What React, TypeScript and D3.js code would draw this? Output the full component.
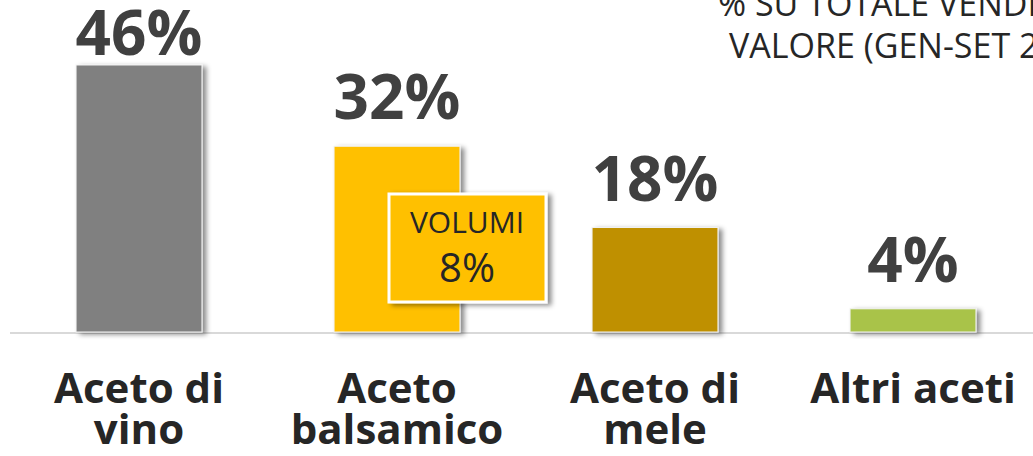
import React from "react";
import * as d3 from "d3";

const categories: string[][] = [["Aceto di", "vino"], ["Aceto", "balsamico"], ["Aceto di", "mele"], ["Altri aceti"]];
const values: number[] = [46, 32, 18, 4];
const colors: string[] = ["#808080", "#FFC000", "#BF9000", "#A9C34A"];
const titleLines: string[] = ["% SU TOTALE VENDITE", "VALORE (GEN-SET 2019)"];
const calloutLines: string[] = ["VOLUMI", "8%"];

const W = 1033;
const H = 456;
const FONT = "'Open Sans', 'DejaVu Sans', sans-serif";

export default function App() {
  const keys = categories.map((c) => c.join(" "));
  const x = d3.scaleBand<string>().domain(keys).range([10, 1042]).paddingInner(0.512).paddingOuter(0.256);
  const y = d3.scaleLinear().domain([0, 46]).range([332, 65]);
  const bw = x.bandwidth();

  return (
    <svg width={W} height={H} style={{ position: "absolute", left: 0, top: 0, background: "#fff" }}>
      <defs>
        <filter id="sh" x="-20%" y="-20%" width="150%" height="150%">
          <feDropShadow dx="4" dy="2" stdDeviation="2.5" floodColor="#000" floodOpacity="0.45" />
        </filter>
      </defs>
      <rect width={W} height={H} fill="#fff" />
      {titleLines.map((t, i) => (
        <text key={t} x={i === 0 ? 718 : 729} y={16 + i * 42} fontFamily={FONT} fontSize={34} fill="#262626">
          {t}
        </text>
      ))}
      <line x1={10} x2={W} y1={333} y2={333} stroke="#d9d9d9" strokeWidth={2} />
      {values.map((v, i) => {
        const x0 = x(keys[i]) as number;
        return (
          <g key={keys[i]}>
            <rect x={x0} y={y(v)} width={bw} height={y(0) - y(v)} fill={colors[i]} stroke="#f2f2f2" strokeWidth={1} filter="url(#sh)" />
            <text
              x={x0 + bw / 2}
              y={Math.max(y(v) - 27, 55)}
              textAnchor="middle"
              fontFamily={FONT}
              fontWeight={700}
              fontSize={62}
              fill="#404040"
            >
              {v}%
            </text>
            {categories[i].map((line, j) => (
              <text
                key={line}
                x={x0 + bw / 2}
                y={403 + j * 41}
                textAnchor="middle"
                fontFamily={FONT}
                fontWeight={700}
                fontSize={42}
                fill="#262626"
              >
                {line}
              </text>
            ))}
          </g>
        );
      })}
      <g>
        <rect x={389} y={194} width={157} height={108} fill="#FFC000" stroke="#fff" strokeWidth={3} filter="url(#sh)" />
        <text x={467} y={233} textAnchor="middle" fontFamily={FONT} fontSize={30} fill="#262626">
          {calloutLines[0]}
        </text>
        <text x={467} y={282} textAnchor="middle" fontFamily={FONT} fontSize={40} fill="#262626">
          {calloutLines[1]}
        </text>
      </g>
    </svg>
  );
}
